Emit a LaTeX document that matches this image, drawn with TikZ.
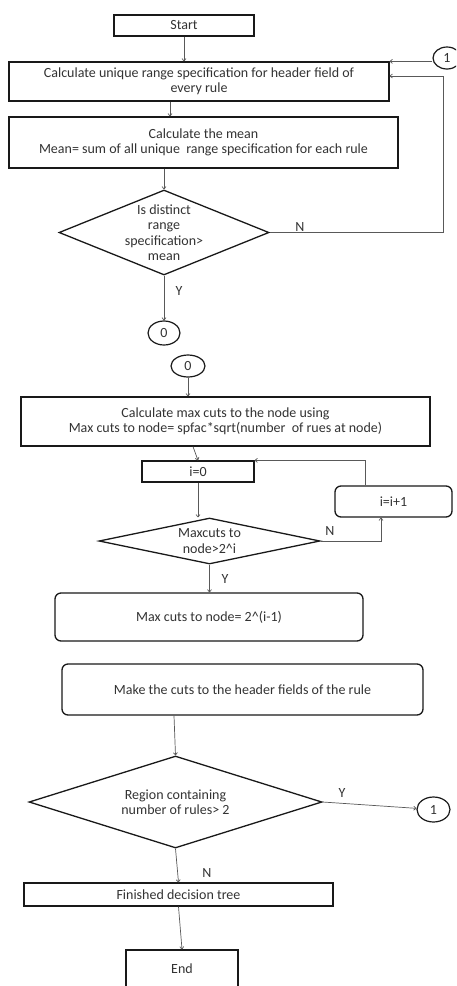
\documentclass[tikz,border=0pt]{standalone}
\usepackage{fontspec}
\setmainfont{Carlito}
\usetikzlibrary{shapes.geometric,arrows.meta,calc}
\begin{document}
\begin{tikzpicture}[x=1pt,y=-1pt,
  fnt/.style={font=\fontsize{14}{15.5}\selectfont, text=black!80},
  box/.style={draw=black!90, line width=1.3pt, inner sep=0pt, fnt, align=center},
  rbox/.style={box, rounded corners=6pt},
  dia/.style={draw=black!90, line width=1.3pt, diamond, inner sep=0pt},
  dtxt/.style={fnt, align=center, inner sep=0pt},
  conn/.style={ellipse, draw=black!90, line width=1.2pt, inner sep=0pt, fnt},
  con/.style={draw=black!65, line width=0.7pt},
  arr/.style={con, -{To[length=3pt,width=4.5pt]}},
  lbl/.style={fnt}
]
\useasboundingbox (0,0) rectangle (456,986);
\fill[white] (0,0) rectangle (456,986);
\clip (0,0) rectangle (456,986);

% nodes
\node[box, minimum width=140, minimum height=21] (start) at (184,25.5) {Start};
\node[box, minimum width=380, minimum height=39] (b1) at (199,81.5)
  {Calculate unique range specification for header field of\\every rule};
\node[box, minimum width=389, minimum height=51] (b2) at (203.5,142.5)
  {Calculate the mean\\Mean= sum of all unique\ \ range specification for each rule};
\node[dia, minimum width=210, minimum height=85] (d1) at (164,232.5) {};
\node[dtxt] at (d1) {Is distinct\\range\\specification>\\mean};
\node[conn, minimum width=32, minimum height=24] (c0a) at (164,333) {0};
\node[conn, minimum width=34, minimum height=22] (c0b) at (188,366) {0};
\node[box, minimum width=409, minimum height=49] (b3) at (225.5,421.5)
  {Calculate max cuts to the node using\\Max cuts to node= spfac*sqrt(number\ \ of rues at node)};
\node[box, minimum width=112, minimum height=21] (i0) at (198,471.5) {i=0};
\node[rbox, minimum width=117, minimum height=31] (inc) at (393.5,501.5) {i=i+1};
\node[dia, minimum width=221, minimum height=46] (d2) at (209.5,541) {};
\node[dtxt] at (d2) {Maxcuts to\\node>2\^{}i};
\node[rbox, minimum width=308, minimum height=48] (b4) at (209,617) {Max cuts to node=\ 2\^{}(i-1)};
\node[rbox, minimum width=361, minimum height=51] (b5) at (242.5,689.5) {Make the cuts to the header fields of the rule};
\node[dia, minimum width=293, minimum height=92] (d3) at (175.5,802) {};
\node[dtxt] at (d3) {Region containing\\number of rules> 2};
\node[conn, minimum width=33, minimum height=25] (c1b) at (433.5,809.5) {1};
\node[conn, minimum width=28, minimum height=22] (c1a) at (447,58) {1};
\node[box, minimum width=309, minimum height=23] (b6) at (178.5,894.5) {Finished decision tree};
\node[box, minimum width=112, minimum height=38] (end) at (182,969) {End};

% connectors
\draw[arr] (start.south) -- (start.south |- b1.north);
\draw[arr] (c1a.west |- b1.north east) -- (b1.north east);
\draw[arr] (d1.east) -- (443,232.5) coordinate (nr) -- (nr |- 0,76) -- ([yshift=5.5pt]b1.east);
\node[lbl] at (300,227) {N};
\draw[arr] ([xshift=-29pt]b1.south) -- ([xshift=-29pt]b1.south |- b2.north);
\draw[arr] (d1.north |- b2.south) -- (d1.north);
\draw[arr] (d1.south) -- (c0a.north);
\node[lbl] at (179,291) {Y};
\draw[arr] (c0b.south) -- (c0b.south |- b3.north);
\draw[arr] ([xshift=-32.5pt]b3.south) -- (i0.north);
\draw[arr] (i0.south) -- (i0.south |- d2.north);
\draw[arr] ([xshift=-28.5pt]inc.north) -- ([xshift=-28.5pt]inc.north |- i0.north) -- (i0.north east);
\draw[arr] (d2.east) -| ([xshift=-12.5pt]inc.south);
\node[lbl] at (330,531) {N};
\draw[arr] (d2.south) -- (d2.south |- b4.north);
\node[lbl] at (225,579) {Y};
\draw[arr] ([xshift=-68.5pt]b5.south) -- (d3.north);
\draw[arr] (d3.east) -- (c1b);
\node[lbl] at (342,793) {Y};
\draw[arr] (d3.south) -- (b6.north);
\node[lbl] at (207,873) {N};
\draw[arr] (b6.south) -- (end.north);
\end{tikzpicture}
\end{document}
